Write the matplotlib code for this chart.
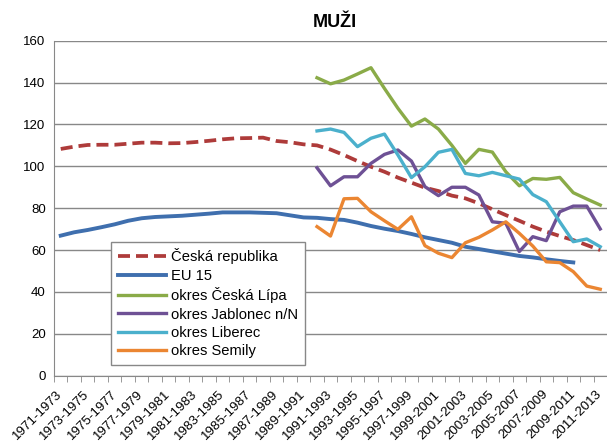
import matplotlib
matplotlib.use("Agg")
import matplotlib.pyplot as plt
import numpy as np

plt.rcParams['font.family'] = ['Liberation Sans', 'DejaVu Sans']

# period labels 1971-1973 ... 2011-2013
periods = [f"{y}-{y+2}" for y in range(1971, 2012)]

ceska_republika = [108.3, 109.4, 110.2, 110.3, 110.3, 110.8, 111.3, 111.3, 111.0, 111.1,
                   111.6, 112.2, 112.9, 113.4, 113.5, 113.7, 112.1, 111.5, 110.5, 110.0,
                   108.0, 105.4, 102.5, 99.8, 97.4, 94.6, 92.2, 89.8, 88.2, 86.0,
                   84.7, 82.3, 79.5, 76.7, 74.0, 71.2, 68.8, 66.7, 64.8, 62.4, 60.0]
eu15 = [66.9, 68.5, 69.6, 70.9, 72.3, 74.0, 75.2, 75.8, 76.1, 76.4,
        76.9, 77.4, 78.0, 78.0, 78.0, 77.8, 77.6, 76.6, 75.6, 75.4,
        74.8, 74.4, 73.1, 71.5, 70.2, 69.1, 67.7, 66.1, 64.8, 63.5,
        61.6, 60.5, 59.4, 58.3, 57.2, 56.5, 55.6, 54.8, 54.1, None, None]
ceska_lipa = [142.3, 139.4, 141.2, 144.1, 147.1, 137.2, 127.7, 119.2, 122.6, 117.8,
              110.0, 101.4, 108.1, 106.8, 97.4, 90.7, 94.2, 93.8, 94.7, 87.4, 84.4, 81.5]
jablonec = [99.3, 90.7, 95.0, 95.0, 101.4, 105.7, 107.8, 102.5, 90.3, 86.0,
            90.0, 90.0, 86.3, 73.5, 72.8, 59.3, 66.4, 64.5, 78.3, 81.0, 81.0, 70.1]
liberec = [116.9, 117.8, 116.2, 109.4, 113.4, 115.4, 105.4, 94.6, 99.8, 106.7,
           108.1, 96.6, 95.5, 97.1, 95.5, 93.9, 86.5, 83.1, 73.5, 64.0, 65.3, 61.6]
semily = [71.2, 66.7, 84.5, 84.7, 78.3, 74.0, 69.9, 75.9, 62.1, 58.5,
          56.4, 63.5, 66.1, 69.6, 73.5, 68.0, 61.9, 54.4, 54.0, 49.7, 42.8, 41.3]

x_all = np.arange(len(periods))
x_okres = np.arange(19, 41)
eu_vals = np.array([np.nan if v is None else v for v in eu15])

fig = plt.figure(figsize=(6.07, 4.42), dpi=100)
ax = fig.add_axes([54/607, 1 - 375.7/442, 553/607, 335/442])

lw = 2.4
ax.plot(x_all, ceska_republika, color="#AE3B3A", lw=lw + 0.3, dashes=(3.2, 1.6),
        label="Česká republika", zorder=3)
ax.plot(x_all, eu_vals, color="#3F6FAE", lw=lw + 0.4, label="EU 15", zorder=3)
ax.plot(x_okres, ceska_lipa, color="#8AAB48", lw=lw, label="okres Česká Lípa", zorder=3)
ax.plot(x_okres, jablonec, color="#6E5195", lw=lw, label="okres Jablonec n/N", zorder=3)
ax.plot(x_okres, liberec, color="#4BB0CC", lw=lw, label="okres Liberec", zorder=3)
ax.plot(x_okres, semily, color="#EB8632", lw=lw, label="okres Semily", zorder=3)

ax.set_xlim(-0.5, len(periods) - 0.5)
ax.set_ylim(0, 160)
ax.set_yticks(range(0, 161, 20))
ax.tick_params(axis="y", length=0, labelsize=9.5, pad=6)

ax.set_xticks(x_all[::2])
ax.set_xticklabels(periods[::2], rotation=45, ha="right", va="center",
                   rotation_mode="anchor", fontsize=9.6)
ax.tick_params(axis="x", which="major", length=0, pad=12)
ax.set_xticks(np.arange(-0.5, len(periods)), minor=True)
ax.tick_params(axis="x", which="minor", length=4, color="#888888", direction="out")

ax.grid(axis="y", color="#888888", linewidth=1)
ax.set_axisbelow(True)
for side in ["top", "right"]:
    ax.spines[side].set_visible(False)
ax.spines["left"].set_color("#888888")
ax.spines["bottom"].set_color("#888888")

ax.set_title("MUŽI", fontsize=13, fontweight="bold", x=0.508, y=1.015, ha="center")

leg = ax.legend(loc="lower left", bbox_to_anchor=(0.103, 0.032), fontsize=10.6,
                frameon=True, fancybox=False, edgecolor="#888888", framealpha=1,
                handlelength=3.3, handletextpad=0.35, labelspacing=0.3,
                borderpad=0.45, borderaxespad=0)
leg.get_frame().set_linewidth(1)

fig.savefig("out.png", dpi=100)
